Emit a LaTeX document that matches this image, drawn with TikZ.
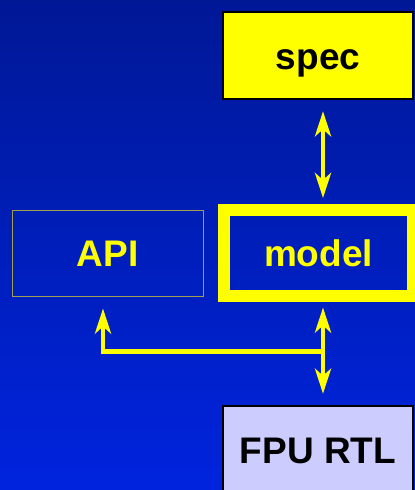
\documentclass[tikz,border=0pt]{standalone}
\usepackage{fontspec}
\setmainfont{Liberation Sans}
\usetikzlibrary{calc,arrows.meta}

\definecolor{bgtop}{RGB}{0,24,150}
\definecolor{bgbot}{RGB}{0,36,222}
\definecolor{hiyellow}{RGB}{255,255,0}
\definecolor{lavender}{RGB}{204,204,255}
\definecolor{olivedge}{RGB}{160,160,80}

\tikzset{
  block/.style={rectangle, minimum width=190pt, minimum height=87pt,
    inner sep=0pt, text height=27pt, text depth=0pt,
    font=\fontsize{37}{44}\selectfont\bfseries},
  darkblock/.style={block, draw=black, line width=2.5pt},
  link/.style={draw=hiyellow, line width=4.5pt, line join=miter,
    >={Stealth[length=25pt, width=16pt, inset=7pt]}},
  both/.style={link, <->},
  single/.style={link, ->}
}

\begin{document}
\begin{tikzpicture}[x=1pt, y=-1pt]
  % backdrop with vertical gradient
  \shade[top color=bgtop, bottom color=bgbot] (0,0) rectangle (415,490);
  \useasboundingbox (0,0) rectangle (415,490);

  % blocks
  \node[darkblock, fill=hiyellow, text=black] (spec) at (318,55.5) {spec};
  \node[block, draw=olivedge, line width=1pt, minimum width=191pt,
        minimum height=86pt, text=hiyellow] (api) at (107.5,253) {API};
  \node[block, draw=hiyellow, line width=12pt, minimum width=189pt,
        minimum height=85.5pt, text=hiyellow] (model) at (318.5,252.75) {model};
  \node[darkblock, fill=lavender, text=black] (fpu) at (318,449.5) {FPU RTL};

  % connectors
  \draw[both, shorten <=11pt, shorten >=6pt]
    ($(spec.south)+(5,0)$) -- ($(model.north)+(4.5,0)$);
  \draw[both, shorten <=6pt, shorten >=11pt]
    ($(model.south)+(4.5,0)$) -- ($(fpu.north)+(5,0)$);
  \coordinate (branch) at ($(model.south)+(4.5,50)$);
  \draw[single, shorten >=12pt]
    ([xshift=2.25pt]branch) -| ($(api.south)+(-4.5,0)$);
\end{tikzpicture}
\end{document}
